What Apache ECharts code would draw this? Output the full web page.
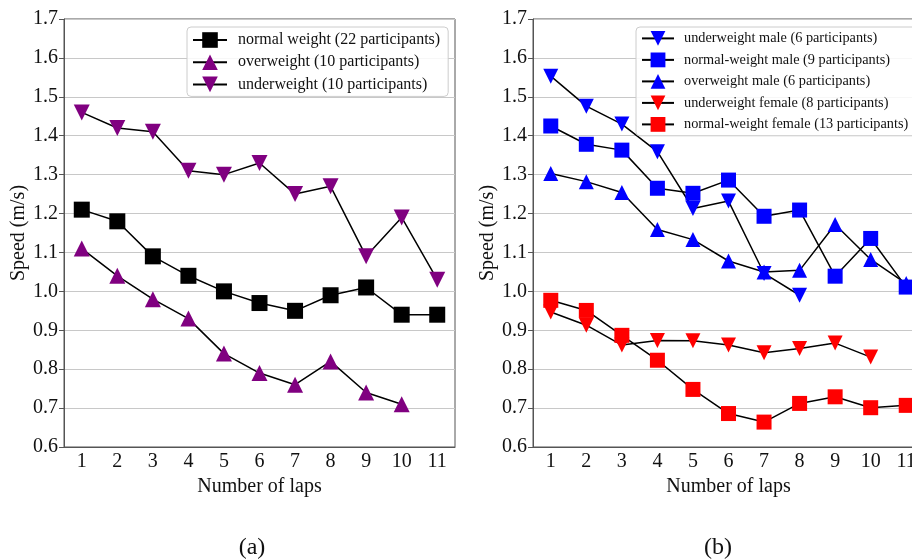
<!DOCTYPE html>
<html><head><meta charset="utf-8">
<script src="https://cdn.jsdelivr.net/npm/echarts@6/dist/echarts.min.js"></script>
<style>html,body{margin:0;padding:0;background:#fff}#c{width:912px;height:559px}</style>
</head><body><div id="c"></div>
<script>
const laps = ['1','2','3','4','5','6','7','8','9','10','11'];
const yTicks = [0.6,0.7,0.8,0.9,1.0,1.1,1.2,1.3,1.4,1.5,1.6,1.7];
// panel (a)
const normalWeight = [1.21,1.18,1.09,1.04,1.00,0.97,0.95,0.99,1.01,0.94,0.94];
const overweight = [1.11,1.04,0.98,0.93,0.84,0.79,0.76,0.82,0.74,0.71];
const underweight = [1.46,1.42,1.41,1.31,1.30,1.33,1.25,1.27,1.09,1.19,1.03];
// panel (b)
const underMale = [1.553,1.476,1.43,1.359,1.213,1.232,1.046,0.99];
const normalMale = [1.425,1.378,1.363,1.265,1.252,1.286,1.193,1.209,1.039,1.136,1.011];
const overMale = [1.303,1.282,1.254,1.159,1.133,1.078,1.05,1.054,1.172,1.082,1.02];
const underFemale = [0.947,0.913,0.862,0.874,0.873,0.862,0.842,0.853,0.867,0.831];
const normalFemale = [0.977,0.951,0.887,0.823,0.748,0.686,0.664,0.712,0.729,0.701,0.707];

const namesA = ['normal weight (22 participants)','overweight (10 participants)','underweight (10 participants)'];
const namesB = ['underweight male (6 participants)','normal-weight male (9 participants)','overweight male (6 participants)','underweight female (8 participants)','normal-weight female (13 participants)'];
const panelLabels = ['(a)','(b)'];

const FONT = '"Liberation Serif", "Times New Roman", serif';
const chart = echarts.init(document.getElementById('c'), null, {renderer:'canvas'});

function xAx(gi){
  return {type:'category', gridIndex:gi, data:laps, boundaryGap:true,
    axisLine:{lineStyle:{color:'#555', width:1}},
    axisTick:{alignWithLabel:true, length:5, lineStyle:{color:'#555'}},
    axisLabel:{fontFamily:FONT, fontSize:20, color:'#111', margin:5},
    splitLine:{show:false},
    name:'Number of laps', nameLocation:'middle', nameGap:27,
    nameTextStyle:{fontFamily:FONT, fontSize:20, color:'#111'}};
}
function yAx(gi){
  return {type:'value', gridIndex:gi, min:0.6, max:1.7, interval:0.1,
    axisLine:{show:true, lineStyle:{color:'#555', width:1}},
    axisTick:{show:true, length:5, lineStyle:{color:'#555'}},
    axisLabel:{fontFamily:FONT, fontSize:20, color:'#111', margin:6,
      formatter:v=>v.toFixed(1)},
    splitLine:{show:true, lineStyle:{color:'#c8c8c8', width:1}},
    name:'Speed (m/s)', nameLocation:'middle', nameGap:31,
    nameTextStyle:{fontFamily:FONT, fontSize:20, color:'#111'}};
}
function ser(name, data, gi, symbol, color, size){
  return {name, type:'line', xAxisIndex:gi, yAxisIndex:gi, data,
    symbol, symbolSize:size, showAllSymbol:true,
    lineStyle:{color:'#000', width:1.5},
    itemStyle:{color:color, borderWidth:0},
    emphasis:{disabled:true}, animation:false, z:2};
}
const triDown = 'path://M0,0 L10,0 L5,8.66 Z';
const triUp = 'path://M5,0 L10,8.66 L0,8.66 Z';

chart.setOption({
  animation:false,
  grid:[
    {left:64, top:19, width:391, height:428, show:true, borderColor:'#555', borderWidth:1, backgroundColor:'transparent', outerBoundsMode:'none', containLabel:false},
    {left:533, top:19, width:391, height:428, show:true, borderColor:'#555', borderWidth:1, backgroundColor:'transparent', outerBoundsMode:'none', containLabel:false}
  ],
  xAxis:[xAx(0), xAx(1)],
  yAxis:[yAx(0), yAx(1)],
  legend:[
    {data:namesA, left:187, top:27, orient:'vertical', itemGap:6.2, itemWidth:34, itemHeight:19.5,
     padding:[5,8,4,5], backgroundColor:'rgba(255,255,255,0.85)', borderColor:'#ccc', borderWidth:1, borderRadius:4,
     textStyle:{fontFamily:FONT, fontSize:16, color:'#111', padding:[0,0,0,6]}, selectedMode:false},
    {data:namesB, left:636, top:27, orient:'vertical', itemGap:6.7, itemWidth:32, itemHeight:18.5,
     padding:[4,8,4,5], backgroundColor:'rgba(255,255,255,0.85)', borderColor:'#ccc', borderWidth:1, borderRadius:4,
     textStyle:{fontFamily:FONT, fontSize:14.3, color:'#111', padding:[0,0,0,5]}, selectedMode:false}
  ],
  series:[
    ser(namesA[0], normalWeight, 0, 'rect', '#000', 16),
    ser(namesA[1], overweight, 0, triUp, '#800080', 16),
    ser(namesA[2], underweight, 0, triDown, '#800080', 16),
    ser(namesB[0], underMale, 1, triDown, '#0000ff', 15),
    ser(namesB[1], normalMale, 1, 'rect', '#0000ff', 15),
    ser(namesB[2], overMale, 1, triUp, '#0000ff', 15),
    ser(namesB[3], underFemale, 1, triDown, '#ff0000', 15),
    ser(namesB[4], normalFemale, 1, 'rect', '#ff0000', 15)
  ],
  graphic:[
    {type:'text', x:252, y:548, style:{text:panelLabels[0], font:'24px '+FONT, fill:'#111', align:'center', verticalAlign:'middle'}},
    {type:'text', x:718, y:548, style:{text:panelLabels[1], font:'24px '+FONT, fill:'#111', align:'center', verticalAlign:'middle'}}
  ]
});
</script></body></html>
